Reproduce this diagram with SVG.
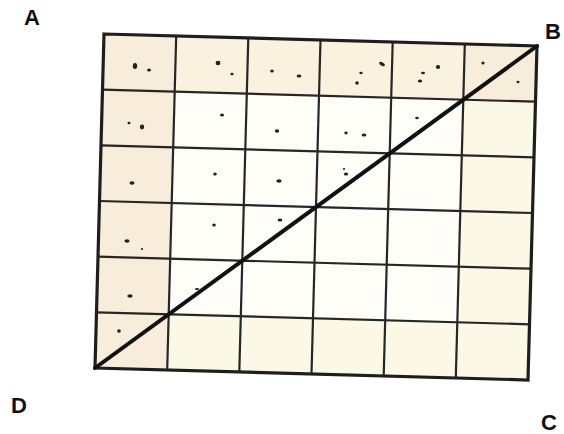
<svg xmlns="http://www.w3.org/2000/svg" width="564" height="434" viewBox="0 0 564 434">
<style>
.lbl{font-family:"Liberation Sans",Arial,sans-serif;font-weight:bold;font-size:22px;fill:#111}
.grid{stroke:#262626;stroke-width:2.2;fill:none}
.border{stroke:#1e1e1e;stroke-width:3.2;fill:none;stroke-linejoin:miter}
.diag{stroke:#111;stroke-width:4;stroke-linecap:round}
.dot{fill:#222}
.pe{fill:#f8ecda}
.py{fill:#faf2df}
.cr{fill:#fbf8e6}
.wh{fill:#fefdf8}
</style>
<rect width="564" height="434" fill="#ffffff"/>
<g id="cells" transform="matrix(72.1667 2 -1.5 55.6667 104 34)">
  <rect x="0" y="0" width="6" height="6" class="wh"/>
  <rect x="0" y="0" width="1" height="6" class="pe"/>
  <rect x="1" y="0" width="4" height="1" class="py"/>
  <rect x="5" y="0" width="1" height="1" class="pe"/>
  <rect x="5" y="1" width="1" height="5" class="cr"/>
  <rect x="1" y="5" width="4" height="1" class="cr"/>
</g>
<g id="grid">
  <line class="grid" x1="176.2" y1="36" x2="167.2" y2="370"/>
  <line class="grid" x1="248.3" y1="38" x2="239.3" y2="372"/>
  <line class="grid" x1="320.5" y1="40" x2="311.5" y2="374"/>
  <line class="grid" x1="392.7" y1="42" x2="383.7" y2="376"/>
  <line class="grid" x1="464.8" y1="44" x2="455.8" y2="378"/>
  <line class="grid" x1="102.5" y1="89.7" x2="535.5" y2="101.7"/>
  <line class="grid" x1="101" y1="145.3" x2="534" y2="157.3"/>
  <line class="grid" x1="99.5" y1="201" x2="532.5" y2="213"/>
  <line class="grid" x1="98" y1="256.7" x2="531" y2="268.7"/>
  <line class="grid" x1="96.5" y1="312.3" x2="529.5" y2="324.3"/>
  <polygon class="border" points="104,34 537,46 528,380 95,368"/>
</g>
<g id="dots">
  <ellipse class="dot" cx="135" cy="66" rx="2.2" ry="3"/>
  <ellipse class="dot" cx="149" cy="70" rx="2" ry="1.5"/>
  <ellipse class="dot" cx="218" cy="63" rx="2.4" ry="2.2"/>
  <ellipse class="dot" cx="232" cy="74" rx="1.6" ry="1.3"/>
  <ellipse class="dot" cx="272" cy="71" rx="1.8" ry="1.6"/>
  <ellipse class="dot" cx="299" cy="76" rx="2.4" ry="1.6"/>
  <ellipse class="dot" cx="382" cy="64" rx="3.2" ry="1.6" transform="rotate(30 382 64)"/>
  <ellipse class="dot" cx="361" cy="73" rx="1.7" ry="1.3"/>
  <ellipse class="dot" cx="357" cy="83" rx="1.8" ry="1.7"/>
  <ellipse class="dot" cx="438" cy="67" rx="2.2" ry="2.1"/>
  <ellipse class="dot" cx="423" cy="73" rx="2" ry="1.3"/>
  <ellipse class="dot" cx="420" cy="81" rx="2.2" ry="1.5"/>
  <ellipse class="dot" cx="483" cy="63" rx="1.6" ry="1.6"/>
  <ellipse class="dot" cx="518" cy="82" rx="1.5" ry="1.3"/>
  <ellipse class="dot" cx="129" cy="123" rx="1.5" ry="1.3"/>
  <ellipse class="dot" cx="142" cy="127" rx="2.2" ry="2.4"/>
  <ellipse class="dot" cx="222" cy="115" rx="2" ry="1.6"/>
  <ellipse class="dot" cx="277" cy="131" rx="2.2" ry="1.8"/>
  <ellipse class="dot" cx="346" cy="133" rx="1.7" ry="1.4"/>
  <ellipse class="dot" cx="364" cy="135" rx="2.4" ry="1.5"/>
  <ellipse class="dot" cx="417" cy="118" rx="1.8" ry="1.3"/>
  <ellipse class="dot" cx="132" cy="183" rx="2.5" ry="1.8"/>
  <ellipse class="dot" cx="215" cy="174" rx="1.8" ry="1.5"/>
  <ellipse class="dot" cx="279" cy="181" rx="2.7" ry="1.7"/>
  <ellipse class="dot" cx="346" cy="174" rx="2.2" ry="1.6"/>
  <ellipse class="dot" cx="344" cy="169" rx="1.1" ry="0.9"/>
  <ellipse class="dot" cx="127" cy="241" rx="2.6" ry="1.7"/>
  <ellipse class="dot" cx="142" cy="249" rx="1.1" ry="1.1"/>
  <ellipse class="dot" cx="214" cy="225" rx="1.8" ry="1.6"/>
  <ellipse class="dot" cx="280" cy="220" rx="2.4" ry="1.6"/>
  <ellipse class="dot" cx="130" cy="296" rx="2.7" ry="1.7"/>
  <ellipse class="dot" cx="197" cy="289" rx="2.2" ry="1.1"/>
  <ellipse class="dot" cx="119" cy="331" rx="1.8" ry="1.8"/>
</g>
<g id="diagonal">
  <line class="diag" x1="95" y1="368" x2="537" y2="46"/>
</g>
<g id="labels">
  <text class="lbl" x="24" y="25">A</text>
  <text class="lbl" x="545" y="39">B</text>
  <text class="lbl" x="11" y="413">D</text>
  <text class="lbl" x="541" y="430">C</text>
</g>
</svg>
